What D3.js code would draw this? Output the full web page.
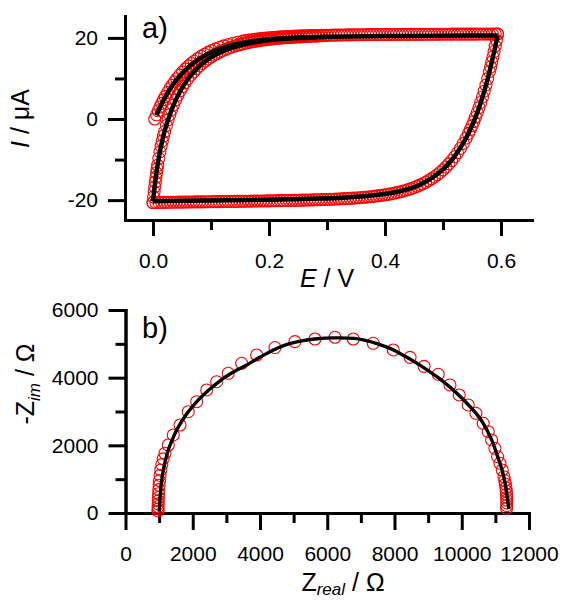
<!DOCTYPE html>
<html lang="en">
<head>
<meta charset="UTF-8">
<title>CV and impedance fit</title>
<style>
  body { margin: 0; background: #fff; }
  svg text { font-family: "Liberation Sans", Arial, sans-serif; fill: #000; white-space: pre; }
</style>
</head>
<body>
<script src="https://d3js.org/d3.v7.min.js"></script>
<div id="container"></div>
<script>
// ---- panel a: cyclic voltammogram, measured points (red circles) ----
// first forward sweep, starting at I = 0
var cvE1 = [0.003,0.006,0.009,0.012,0.015,0.018,0.021,0.025,0.029,0.033,0.037,0.041,0.046,0.051,0.056,0.061,0.066,0.071,0.077,0.083,0.089,0.095,0.101,0.108,0.115,0.122,0.130,0.138,0.146,0.155,
  0.160,0.165,0.170,0.175,0.180,0.185,0.190,0.195,0.200,0.205,0.210,0.215,0.220,0.225,0.230,0.235,0.240,0.245,0.250,0.255,0.260,0.265,0.270,0.275,0.280,0.285,0.290,0.295,0.300,
  0.305,0.310,0.315,0.320,0.325,0.330,0.335,0.340,0.345,0.350,0.355,0.360,0.365,0.370,0.375,0.380,0.385,0.390,0.395,0.400,0.405,0.410,0.415,0.420,0.425,0.430,0.435,0.440,0.445,0.450,
  0.455,0.460,0.465,0.470,0.475,0.480,0.485,0.490,0.495,0.500,0.505,0.510,0.515,0.520,0.525,0.530,0.535,0.540,0.545,0.550,0.555,0.560,0.565,0.570,0.575,0.580,0.585,0.590,0.594];
var cvI1 = [0.0,1.04,2.03,2.97,3.86,4.71,5.51,6.52,7.46,8.34,9.16,9.93,10.81,11.63,12.37,13.06,13.69,14.26,14.89,15.47,15.98,16.44,16.86,17.29,17.68,18.03,18.37,18.67,18.94,19.20,
  19.32,19.44,19.54,19.64,19.73,19.82,19.90,19.97,20.03,20.09,20.15,20.20,20.25,20.29,20.33,20.36,20.40,20.43,20.46,20.49,20.51,20.53,20.56,20.58,20.59,20.61,20.63,20.64,20.66,
  20.67,20.68,20.69,20.71,20.72,20.73,20.74,20.75,20.76,20.77,20.78,20.78,20.79,20.80,20.80,20.81,20.81,20.82,20.82,20.83,20.83,20.84,20.84,20.85,20.85,20.86,20.86,20.87,20.87,20.87,
  20.88,20.88,20.88,20.89,20.89,20.89,20.90,20.90,20.90,20.91,20.91,20.91,20.92,20.92,20.92,20.93,20.93,20.93,20.94,20.94,20.94,20.95,20.95,20.95,20.96,20.96,20.96,20.97,20.97];
// reverse sweep
var cvE2 = [0.594,0.592,0.590,0.588,0.586,0.584,0.582,0.580,0.577,0.574,0.571,0.568,0.565,0.562,0.559,0.556,0.553,0.550,0.547,0.544,0.540,
  0.535,0.530,0.525,0.520,0.515,0.510,0.505,0.500,0.495,0.490,0.485,0.480,0.475,0.470,0.465,0.460,0.455,0.450,0.445,0.440,0.435,0.430,0.425,0.420,
  0.415,0.410,0.405,0.400,0.395,0.390,0.385,0.380,0.375,0.370,0.365,0.360,0.355,0.350,0.345,0.340,0.335,0.330,0.325,0.320,0.315,0.310,0.305,0.300,
  0.295,0.290,0.285,0.280,0.275,0.270,0.265,0.260,0.255,0.250,0.245,0.240,0.235,0.230,0.225,0.220,0.215,0.210,0.205,0.200,
  0.195,0.190,0.185,0.180,0.175,0.170,0.165,0.160,0.155,0.150,0.145,0.140,0.135,0.130,0.125,0.120,0.115,0.110,0.105,0.100,
  0.095,0.090,0.085,0.080,0.075,0.070,0.065,0.060,0.055,0.050,0.045,0.040,0.035,0.030,0.025,0.020,0.015,0.010,0.005,0.000];
var cvI2 = [20.95,19.42,18.00,16.64,15.32,14.06,12.83,11.66,9.97,8.38,6.86,5.44,4.09,2.81,1.60,0.45,-0.63,-1.66,-2.63,-3.55,-4.69,
  -6.01,-7.22,-8.32,-9.32,-10.24,-11.07,-11.84,-12.53,-13.17,-13.75,-14.28,-14.76,-15.20,-15.61,-15.97,-16.31,-16.62,-16.90,-17.16,-17.39,-17.61,-17.81,-17.99,-18.15,
  -18.31,-18.45,-18.57,-18.69,-18.80,-18.90,-18.99,-19.07,-19.15,-19.22,-19.29,-19.35,-19.41,-19.46,-19.51,-19.55,-19.60,-19.64,-19.67,-19.71,-19.74,-19.77,-19.80,-19.83,
  -19.85,-19.88,-19.90,-19.92,-19.94,-19.96,-19.98,-20.00,-20.01,-20.03,-20.05,-20.06,-20.08,-20.09,-20.11,-20.12,-20.13,-20.15,-20.16,-20.18,
  -20.19,-20.20,-20.21,-20.22,-20.23,-20.25,-20.26,-20.27,-20.28,-20.29,-20.30,-20.31,-20.32,-20.33,-20.34,-20.35,-20.36,-20.37,-20.38,-20.39,
  -20.40,-20.41,-20.42,-20.43,-20.44,-20.45,-20.46,-20.47,-20.48,-20.49,-20.50,-20.51,-20.52,-20.53,-20.54,-20.55,-20.56,-20.57,-20.58,-20.60];
// second forward sweep (joins the first one on the plateau)
var cvE3 = [0.000,0.001,0.002,0.003,0.004,0.005,0.006,0.007,0.008,0.010,0.012,0.014,0.016,0.018,0.020,0.023,0.026,0.029,0.032,0.035,0.039,0.043,0.047,0.051,0.055,
  0.060,0.065,0.070,0.075,0.080,0.085,0.090,0.095,0.100,0.105,0.110,0.115,0.120,0.125,0.130,0.135,0.140,0.145,0.150,0.155,0.160,0.165,0.170,0.175,0.180,
  0.185,0.190,0.195,0.200,0.205,0.210,0.215,0.220,0.225,0.230,0.235,0.240,0.245,0.250,0.255,0.260,0.265,0.270,0.275,0.280,0.285,0.290,0.295,0.300];
var cvI3 = [-20.6,-19.2,-17.9,-16.7,-15.5,-14.4,-13.3,-12.3,-11.4,-9.7,-8.1,-6.7,-5.4,-4.2,-3.1,-1.6,-0.2,1.1,2.3,3.4,4.7,5.9,7.0,8.0,8.9,
  9.9,10.8,11.6,12.4,13.1,13.7,14.3,14.8,15.3,15.75,16.15,16.5,16.85,17.15,17.45,17.7,17.95,18.15,18.35,18.55,18.72,18.88,19.02,19.15,19.27,
  19.38,19.48,19.57,19.65,19.73,19.8,19.86,19.92,19.98,20.03,20.08,20.13,20.17,20.21,20.25,20.29,20.33,20.37,20.41,20.45,20.49,20.53,20.57,20.60];

// ---- panel a: fitted curve (black line) ----
var fitE1 = [0.006,0.012,0.021,0.033,0.046,0.061,0.077,0.095,0.115,0.138,0.165,0.200,0.250,0.300,0.400,0.500,0.594];
var fitI1 = [0.9,2.9,5.4,8.2,10.6,12.8,14.6,16.1,17.3,18.3,19.05,19.65,20.1,20.3,20.45,20.55,20.6];
var fitE2 = [0.594,0.590,0.586,0.580,0.574,0.565,0.556,0.544,0.530,0.515,0.500,0.480,0.460,0.440,0.420,0.400,0.370,0.330,0.280,0.200,0.100,0.000];
var fitI2 = [20.6,17.8,15.3,11.6,8.3,4.0,0.4,-3.5,-7.1,-10.1,-12.4,-14.6,-16.2,-17.3,-18.0,-18.5,-19.0,-19.4,-19.65,-19.9,-20.1,-20.3];
var fitE3 = [0.000,0.002,0.004,0.007,0.010,0.014,0.020,0.026,0.035,0.047,0.060,0.075,0.090,0.110,0.130,0.150,0.175,0.200,0.250,0.300];
var fitI3 = [-20.3,-17.7,-15.3,-12.2,-9.6,-6.6,-3.0,-0.2,3.3,6.9,9.8,12.3,14.2,16.0,17.3,18.2,18.95,19.45,19.95,20.25];

// ---- panel b: Nyquist plot ----
var zReal = [968,969,970,972,975,979,984,991,1000,1012,1028,1050,1080,1120,1174,1273,1421,1621,1867,2117,2415,2712,3057,3455,3901,4445,5040,5635,6230,6774,
  7368,7963,8463,8880,9301,9649,9926,10193,10422,10639,10788,10889,10987,11067,11136,11205,11255,11278,11298,11313,11324,11332,11336,11338,11338,11336,11335];
var zImag = [60,120,190,270,360,460,570,690,820,960,1110,1270,1430,1600,1765,2010,2306,2601,2994,3290,3636,3881,4129,4425,4670,4890,5064,5143,5194,5143,
  5016,4818,4600,4335,4100,3784,3488,3193,2947,2652,2403,2158,1913,1664,1469,1271,1073,960,850,745,645,550,460,380,300,220,139];
var fitReal = [1005,1020,1046,1080,1124,1190,1273,1390,1522,1690,1867,2080,2314,2600,2908,3250,3604,3950,4297,4700,5200,5700,6200,6800,7100,7500,7900,8300,8660,
  9000,9300,9650,10000,10420,10640,10890,11070,11200,11290,11350,11390,11403];
var fitImag = [38,350,680,1000,1271,1570,1862,2160,2453,2740,2994,3250,3488,3740,3982,4190,4375,4580,4768,4950,5080,5150,5175,5160,5110,5000,4850,4640,4430,
  4210,4000,3720,3400,2950,2650,2160,1660,1270,880,480,200,118];

// tick values
var ticksEmajor = [0, 0.2, 0.4, 0.6], ticksEminor = [0.1, 0.3, 0.5];
var ticksImajor = [-20, 0, 20], ticksIminor = [-10, 10];
var ticksZrMajor = [0, 2000, 4000, 6000, 8000, 10000, 12000], ticksZrMinor = [1000, 3000, 5000, 7000, 9000, 11000];
var ticksZiMajor = [0, 2000, 4000, 6000], ticksZiMinor = [1000, 3000, 5000];

var W = 563, H = 601;
var svg = d3.select('#container').append('svg').attr('width', W).attr('height', H);

var xA = d3.scaleLinear().domain([-0.0483, 0.6534]).range([125, 532]);
var yA = d3.scaleLinear().domain([-24.9, 25.4]).range([220, 16]);
var xB = d3.scaleLinear().domain([0, 12000]).range([125.5, 529]);
var yB = d3.scaleLinear().domain([0, 6000]).range([513, 310]);

function pairs(a, b) {
  return a.map(function(v, i) { return [v, b[i]]; }).filter(function(p) { return p[1] !== undefined; });
}

// plain hyphen for negative numbers, like the original
function plain(d) { return String(d); }

function axis(pos, axisFn, scale, major, minor, majorLen, minorLen, pad, fmt) {
  var g = svg.append('g').attr('transform', pos);
  g.append('g').call(axisFn(scale).tickValues(minor).tickSize(minorLen).tickSizeOuter(0).tickFormat(''));
  g.append('g').call(axisFn(scale).tickValues(major).tickSize(majorLen).tickSizeOuter(0).tickPadding(pad).tickFormat(fmt));
  g.selectAll('g').attr('font-family', null).attr('font-size', null);
  g.selectAll('.domain').attr('stroke-width', 3).attr('stroke-linecap', 'square');
  g.selectAll('.tick line').attr('stroke-width', 3);
  g.selectAll('.tick text').style('font-size', '21px');
  return g;
}

// panel a axes
axis('translate(0,220)', d3.axisBottom, xA, ticksEmajor, ticksEminor, 16, 10, 17, d3.format('.1f'));
axis('translate(125,0)', d3.axisLeft, yA, ticksImajor, ticksIminor, 17, 10, 10, plain);

// panel b axes
axis('translate(0,513)', d3.axisBottom, xB, ticksZrMajor, ticksZrMinor, 17, 10, 16, plain);
axis('translate(125.5,0)', d3.axisLeft, yB, ticksZiMajor, ticksZiMinor, 17, 10, 10, plain);

// measured points
function circles(data, xs, ys) {
  svg.append('g').selectAll('circle').data(data).enter().append('circle')
    .attr('cx', function(d) { return xs(d[0]); })
    .attr('cy', function(d) { return ys(d[1]); })
    .attr('r', 6)
    .attr('fill', 'none')
    .attr('stroke', '#ff0000')
    .attr('stroke-width', 1.1);
}
circles(pairs(cvE1, cvI1), xA, yA);
circles(pairs(cvE2, cvI2), xA, yA);
circles(pairs(cvE3, cvI3), xA, yA);
circles(pairs(zReal, zImag), xB, yB);

// fit lines
function fitLine(data, xs, ys, w) {
  var line = d3.line().x(function(d) { return xs(d[0]); }).y(function(d) { return ys(d[1]); }).curve(d3.curveCatmullRom);
  svg.append('path').datum(data).attr('d', line)
    .attr('fill', 'none').attr('stroke', '#000').attr('stroke-width', w)
    .attr('stroke-linejoin', 'miter').attr('stroke-linecap', 'butt');
}
fitLine(pairs(fitE1, fitI1), xA, yA, 4.5);
fitLine(pairs(fitE2, fitI2), xA, yA, 4.5);
fitLine(pairs(fitE3, fitI3), xA, yA, 4.5);
fitLine(pairs(fitReal, fitImag), xB, yB, 3.4);

// panel labels
svg.append('text').attr('x', 142).attr('y', 38).style('font-size', '29px').text('a)');
svg.append('text').attr('x', 142).attr('y', 338).style('font-size', '29px').text('b)');

// axis titles
var tE = svg.append('text').attr('x', 327).attr('y', 287).attr('text-anchor', 'middle').style('font-size', '25px');
tE.append('tspan').style('font-style', 'italic').text('E');
tE.append('tspan').text(' / V');

var tI = svg.append('text').attr('transform', 'translate(29,118.5) rotate(-90)').attr('text-anchor', 'middle').style('font-size', '25px');
tI.append('tspan').style('font-style', 'italic').text('I');
tI.append('tspan').text(' / \u03bcA');

var tZr = svg.append('text').attr('x', 343).attr('y', 591).attr('text-anchor', 'middle').style('font-size', '25px');
tZr.append('tspan').text('Z');
tZr.append('tspan').attr('dy', 4).style('font-size', '17px').style('font-style', 'italic').text('real');
tZr.append('tspan').attr('dy', -4).text(' / \u03a9');

var tZi = svg.append('text').attr('transform', 'translate(34,384) rotate(-90)').attr('text-anchor', 'middle').style('font-size', '25px');
tZi.append('tspan').text('-Z');
tZi.append('tspan').attr('dy', 6).style('font-size', '17px').style('font-style', 'italic').text('im');
tZi.append('tspan').attr('dy', -6).text(' / \u03a9');
</script>
</body>
</html>
